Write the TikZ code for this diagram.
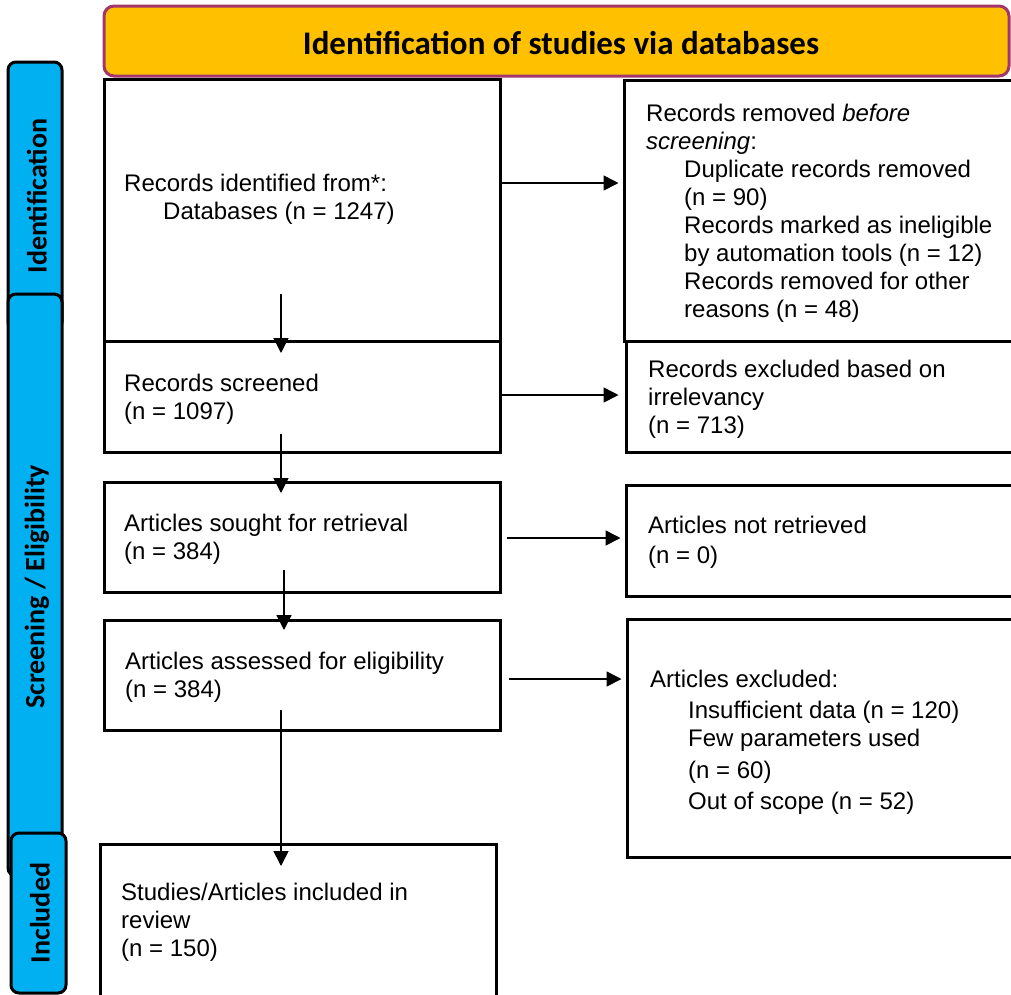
\documentclass[tikz,border=0pt]{standalone}
\usepackage{fontspec}
\setmainfont{Liberation Sans}
\newfontfamily\calibri{Carlito}
\usetikzlibrary{arrows.meta}
\definecolor{hdrfill}{HTML}{FFC000}
\definecolor{hdrline}{HTML}{A3376B}
\definecolor{barfill}{HTML}{00B0F0}
\begin{document}
\begin{tikzpicture}[x=1pt,y=-1pt,
 box/.style={draw=black, line width=3pt, fill=white, rectangle, inner sep=0pt},
 bar/.style={draw=black, line width=3pt, fill=barfill, rounded corners=8pt, rectangle, inner sep=0pt},
 bartxt/.style={rotate=90, inner sep=0pt, font=\calibri\bfseries\fontsize{28}{30}\selectfont},
 txt/.style={anchor=north west, inner sep=0pt, align=left, font=\fontsize{24}{28}\selectfont},
 arr/.style={line width=1.6pt, -{Triangle[length=15pt,width=15pt]}}]
\useasboundingbox (0,0) rectangle (1011,994);
\clip (0,0) rectangle (1011,994);
% side bars
\node[bar, minimum width=54pt, minimum height=268pt] (idb) at (35,196) {};
\node[bartxt] (idt) at (37,196) {Identification};
\node[bar, minimum width=54pt, minimum height=582pt] (scb) at (35,585) {};
\node[bartxt] (sct) at (37,587) {Screening / Eligibility};
\node[bar, minimum width=55pt, minimum height=160pt] (inb) at (38.5,913) {};
\node[bartxt] (int) at (40,913) {Included};
% header
\node[draw=hdrline, fill=hdrfill, line width=3pt, rounded corners=10pt, rectangle,
      minimum width=905pt, minimum height=70pt, inner sep=0pt] (hdr) at (556.5,41) {};
\node[font=\calibri\bfseries\fontsize{33}{36}\selectfont, inner sep=0pt] (hdt) at (561,43)
      {Identification of studies via databases};
% boxes
\node[box, minimum width=396pt, minimum height=262pt] (b1) at (302,210) {};
\node[box, minimum width=406pt, minimum height=261pt] (rem) at (827,210.5) {};
\node[box, minimum width=396pt, minimum height=111pt] (scr) at (302,396.5) {};
\node[box, minimum width=404pt, minimum height=111pt] (exc) at (828,396.5) {};
\node[box, minimum width=396pt, minimum height=110pt] (sou) at (302,537) {};
\node[box, minimum width=404pt, minimum height=111pt] (nr) at (828,540.5) {};
\node[box, minimum width=396pt, minimum height=110pt] (ass) at (302,675) {};
\node[box, minimum width=404pt, minimum height=238pt] (ae) at (829,738) {};
\node[box, minimum width=396pt, minimum height=166pt] (inc) at (298,927) {};
% texts
\node[txt] (t1) at (124,174) {Records identified from*:\\\hspace*{39pt}Databases (n = 1247)};
\node[txt] (t2) at (646,104) {Records removed \textit{before}\\\textit{screening}:\\
  \hspace*{38pt}Duplicate records removed\\\hspace*{38pt}(n = 90)\\
  \hspace*{38pt}Records marked as ineligible\\\hspace*{38pt}by automation tools (n = 12)\\
  \hspace*{38pt}Records removed for other\\\hspace*{38pt}reasons (n = 48)};
\node[txt] (t3) at (124,374) {Records screened\\(n = 1097)};
\node[txt] (t4) at (648,360) {Records excluded based on\\irrelevancy\\(n = 713)};
\node[txt] (t5) at (124,514) {Articles sought for retrieval\\(n = 384)};
\node[txt] (t6) at (648,516) {Articles not retrieved\\[2pt](n = 0)};
\node[txt] (t7) at (125,652) {Articles assessed for eligibility\\(n = 384)};
\node[txt] (t8) at (650,670) {Articles excluded:\\[3pt]
  \hspace*{38pt}Insufficient data (n = 120)\\
  \hspace*{38pt}Few parameters used\\[4pt]
  \hspace*{38pt}(n = 60)\\[3pt]
  \hspace*{38pt}Out of scope (n = 52)};
\node[txt] (t9) at (121,883) {Studies/Articles included in\\review\\(n = 150)};
% connectors
\coordinate (v1s) at (281,294); \coordinate (v1e) at (281,353);
\coordinate (v2s) at (281,434); \coordinate (v2e) at (281,493);
\coordinate (v3s) at (284,570); \coordinate (v3e) at (284,630);
\coordinate (v4s) at (281,710); \coordinate (v4e) at (281,866);
\draw[arr] (v1s) -- (v1e);
\draw[arr] (v2s) -- (v2e);
\draw[arr] (v3s) -- (v3e);
\draw[arr] (v4s) -- (v4e);
\draw[arr] (b1.east |- 0,183) -- ([xshift=-4pt]rem.west |- 0,183);
\draw[arr] (scr.east |- 0,395) -- ([xshift=-6pt]exc.west |- 0,395);
\draw[arr] ([xshift=5pt]sou.east |- 0,538) -- ([xshift=-4pt]nr.west |- 0,538);
\draw[arr] ([xshift=7pt]ass.east |- 0,679) -- ([xshift=-4pt]ae.west |- 0,679);
\end{tikzpicture}
\end{document}
